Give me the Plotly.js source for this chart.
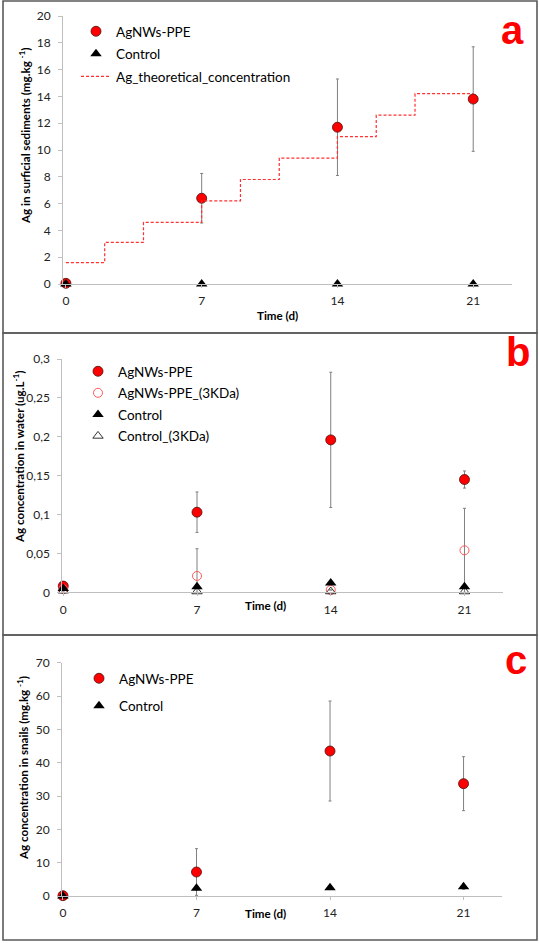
<!DOCTYPE html>
<html><head><meta charset="utf-8">
<script src="https://cdn.plot.ly/plotly-3.0.1.min.js"></script>
<style>html,body{margin:0;padding:0;background:#fff}#chart{width:539px;height:943px}</style>
</head><body><div id="chart"></div>
<script>
// ---- data ----
const days = [0, 7, 14, 21];
const dayTicks = ['0', '7', '14', '21'];

// panel a: surficial sediments (mg.kg-1)
const sedAg = [0.05, 6.4, 11.7, 13.8];
const sedAgErr = [0, 1.85, 3.6, 3.9];
const sedCtrl = [0, 0, 0, 0];
const theoDays = [0, 2, 4, 7, 9, 11, 14, 16, 18, 21];
const theoConc = [1.6, 3.1, 4.6, 6.2, 7.8, 9.4, 11.0, 12.6, 14.2, 14.2];

// panel b: water (ug.L-1)
const waterAg = [0.008, 0.103, 0.196, 0.145];
const waterAgErr = [0.002, 0.026, 0.087, 0.011];
const water3k = [0.004, 0.021, 0.003, 0.054];
const water3kErrUp = [0, 0.035, 0, 0.054];
const water3kErrDown = [0, 0.021, 0, 0.054];
const waterCtrl = [0.005, 0.007, 0.012, 0.007];
const waterCtrl3k = [0.002, 0.001, 0.001, 0.001];

// panel c: snails (mg.kg-1)
const snailAg = [0.1, 7.2, 43.5, 33.7];
const snailAgErr = [0, 7.0, 15.0, 8.1];
const snailCtrl = [0, 2.3, 2.5, 2.8];
const snailCtrlErr = [0, 0.5, 0.5, 0.8];

// ---- styling helpers ----
const W = 539, H = 943;
const px = v => v / W, py = v => 1 - v / H;
const RED = '#ff0000';
const errStyle = {color: '#808080', thickness: 1, width: 1.5};
const circ = {symbol: 'circle', size: 10, color: RED, line: {color: '#4a1010', width: 0.8}};
const tri = {symbol: 'triangle-up', size: 10, color: '#000000', line: {width: 0}};
const openCirc = {symbol: 'circle-open', size: 9, color: '#ff5a5a', line: {width: 1}};
const openTri = {symbol: 'triangle-up-open', size: 9, color: '#000000', line: {width: 0.8}};

const traces = [
  // panel a
  {x: days, y: sedAg, type: 'scatter', mode: 'markers', name: 'AgNWs-PPE', marker: circ,
   error_y: Object.assign({type: 'data', array: sedAgErr, visible: true}, errStyle),
   xaxis: 'x', yaxis: 'y', legend: 'legend', legendgroup: 'a1', cliponaxis: false},
  {x: days, y: sedCtrl, type: 'scatter', mode: 'markers', name: 'Control', marker: tri,
   xaxis: 'x', yaxis: 'y', legend: 'legend', legendgroup: 'a2', cliponaxis: false},
  {x: theoDays, y: theoConc, type: 'scatter', mode: 'lines', name: 'Ag_theoretical_concentration',
   line: {shape: 'hv', color: '#ff3030', width: 1.2, dash: '3px,2px'},
   xaxis: 'x', yaxis: 'y', legend: 'legend', legendgroup: 'a3', cliponaxis: false},
  // panel b
  {x: days, y: waterAg, type: 'scatter', mode: 'markers', name: 'AgNWs-PPE', marker: circ,
   error_y: Object.assign({type: 'data', array: waterAgErr, visible: true}, errStyle),
   xaxis: 'x2', yaxis: 'y2', legend: 'legend2', legendgroup: 'b1', cliponaxis: false},
  {x: days, y: water3k, type: 'scatter', mode: 'markers', name: 'AgNWs-PPE_(3KDa)', marker: openCirc,
   error_y: Object.assign({type: 'data', symmetric: false, array: water3kErrUp, arrayminus: water3kErrDown, visible: true}, errStyle),
   xaxis: 'x2', yaxis: 'y2', legend: 'legend2', legendgroup: 'b2', cliponaxis: false},
  {x: days, y: waterCtrl, type: 'scatter', mode: 'markers', name: 'Control', marker: tri,
   xaxis: 'x2', yaxis: 'y2', legend: 'legend2', legendgroup: 'b3', cliponaxis: false},
  {x: days, y: waterCtrl3k, type: 'scatter', mode: 'markers', name: 'Control_(3KDa)', marker: openTri,
   xaxis: 'x2', yaxis: 'y2', legend: 'legend2', legendgroup: 'b4', cliponaxis: false},
  // panel c
  {x: days, y: snailAg, type: 'scatter', mode: 'markers', name: 'AgNWs-PPE', marker: circ,
   error_y: Object.assign({type: 'data', array: snailAgErr, visible: true}, errStyle),
   xaxis: 'x3', yaxis: 'y3', legend: 'legend3', legendgroup: 'c1', cliponaxis: false},
  {x: days, y: snailCtrl, type: 'scatter', mode: 'markers', name: 'Control', marker: tri,
   error_y: Object.assign({type: 'data', array: snailCtrlErr, visible: true}, errStyle),
   xaxis: 'x3', yaxis: 'y3', legend: 'legend3', legendgroup: 'c2', cliponaxis: false}
];

const tickFont = {family: 'Lato, "Open Sans", sans-serif', size: 12, color: '#222'};
function xax(d0, d1, anchor, r) {
  return {domain: [px(d0), px(d1)], range: r, anchor: anchor, tickmode: 'array', tickvals: days, ticktext: dayTicks,
    showline: true, linecolor: '#bfbfbf', linewidth: 1, showgrid: false, zeroline: false,
    ticks: 'outside', ticklen: 3, tickcolor: '#bfbfbf', tickfont: tickFont, ticklabelstandoff: 3, fixedrange: true};
}
function yax(top, bot, anchor, r, dt) {
  return {domain: [py(bot), py(top)], range: r, anchor: anchor, dtick: dt, tick0: 0,
    showline: true, linecolor: '#bfbfbf', linewidth: 1, showgrid: false, zeroline: false,
    ticks: 'outside', ticklen: 4, tickcolor: '#bfbfbf', tickfont: tickFont, ticklabelstandoff: 5, fixedrange: true};
}

const legFont = {family: 'Lato, "Open Sans", sans-serif', size: 13.5, color: '#000'};
function leg(x, y, gap) {
  return {x: px(x), y: py(y), xanchor: 'left', yanchor: 'top', bgcolor: 'rgba(0,0,0,0)',
    font: legFont, tracegroupgap: gap, traceorder: 'grouped', itemwidth: 30};
}

const titleFont = {family: 'Lato, "Open Sans", sans-serif', size: 11.6, color: '#000', weight: 'bold'};
const letterFont = {family: '"Liberation Sans", Arial, sans-serif', size: 40, color: RED, weight: 'bold'};
function ann(text, x, y, font, angle) {
  return {text: text, x: px(x), y: py(y), xref: 'paper', yref: 'paper', showarrow: false,
    xanchor: 'center', yanchor: 'middle', font: font, textangle: angle || 0};
}

const rectLine = {color: '#5a5a5a', width: 1.6};
function rect(y0, y1) {
  return {type: 'rect', xref: 'paper', yref: 'paper', x0: px(3), x1: px(537), y0: py(y1), y1: py(y0),
    line: rectLine, fillcolor: 'rgba(0,0,0,0)', layer: 'below'};
}

const layout = {
  width: W, height: H, margin: {l: 0, r: 0, t: 0, b: 0}, paper_bgcolor: '#fff', plot_bgcolor: 'rgba(0,0,0,0)',
  separators: ', ', showlegend: true,
  font: {family: 'Lato, "Open Sans", sans-serif'},
  xaxis: xax(63, 512, 'y', [-0.15, 23.0]),
  yaxis: yax(16, 284, 'x', [0, 20], 2),
  xaxis2: xax(62.3, 502.7, 'y2', [-0.05, 23.0]),
  yaxis2: yax(359, 592.3, 'x2', [0, 0.3], 0.05),
  xaxis3: xax(62, 501.7, 'y3', [-0.05, 23.0]),
  yaxis3: yax(662.7, 896, 'x3', [0, 70], 10),
  legend: leg(76, 16, 2),
  legend2: leg(78, 356, 1),
  legend3: leg(79, 663, 7),
  shapes: [rect(1, 333), rect(333, 635), rect(635, 940)],
  annotations: [
    ann('a', 512, 30, letterFont),
    ann('b', 518, 352, letterFont),
    ann('c', 516, 660, letterFont),
    ann('Ag in surficial sediments (mg.kg <sup>-1</sup>)', 24, 136, titleFont, -90),
    ann('Ag concentration in water (ug.L<sup>-1</sup>)', 18, 457, titleFont, -90),
    ann('Ag concentration in snails (mg.kg <sup>-1</sup>)', 22, 768, titleFont, -90),
    ann('Time (d)', 277, 316, titleFont),
    ann('Time (d)', 265, 605, titleFont),
    ann('Time (d)', 265, 913, titleFont)
  ]
};

Plotly.newPlot('chart', traces, layout, {staticPlot: true, displayModeBar: false});
</script>
</body></html>
